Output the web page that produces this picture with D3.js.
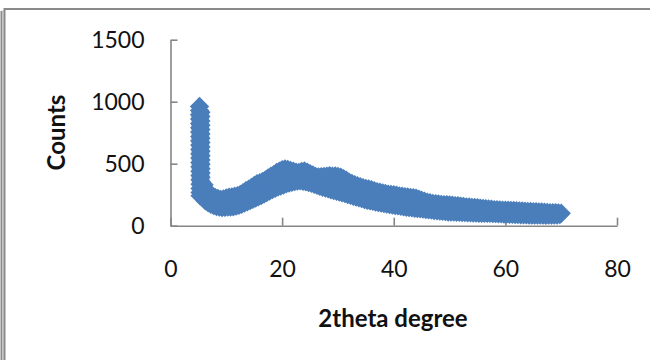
<!DOCTYPE html>
<html>
<head>
<meta charset="utf-8">
<script src="https://cdn.jsdelivr.net/npm/d3@7"></script>
<style>
  html, body { margin: 0; padding: 0; background: #fff; }
  svg { display: block; }
</style>
</head>
<body>
<svg id="chart" width="650" height="360"></svg>
<script>
// ---- data ----
const xTicks = [0, 20, 40, 60, 80];
const yTicks = [0, 500, 1000, 1500];
const xTitle = "2theta degree";
const yTitle = "Counts";

// low-angle spike (dense readings between 5.2 and 5.9 degrees)
const thetaSpike = [
  5.200,
  5.210, 5.215, 5.220, 5.225, 5.230, 5.235, 5.240, 5.245, 5.250, 5.255, 5.260,
  5.265, 5.270, 5.275, 5.280, 5.285, 5.290, 5.295, 5.300, 5.305, 5.310,
  5.440, 5.442, 5.444, 5.446, 5.448, 5.450, 5.452, 5.454, 5.456, 5.458, 5.460,
  5.462, 5.464, 5.466, 5.468, 5.470,
  5.50, 5.60, 5.70, 5.80, 5.90
];
const countsSpike = [
  962,
  930, 895, 860, 825, 790, 755, 720, 685, 650, 615, 580,
  545, 510, 475, 440, 405, 370, 335, 300, 268, 242,
  915, 880, 845, 810, 775, 740, 705, 670, 635, 600, 565,
  530, 495, 460, 425, 390,
  355, 320, 290, 265, 225
];

// readings on whole / half degrees (upper side of the noisy band)
const thetaA = [
  6.0, 6.5, 7.0, 7.5, 8.0, 8.5, 9.0, 9.5, 10.0, 10.5, 11.0, 11.5, 12.0, 12.5, 13.0, 13.5,
  14.0, 14.5, 15.0, 15.5, 16.0, 16.5, 17.0, 17.5, 18.0, 18.5, 19.0, 19.5, 20.0, 20.5,
  21.0, 21.5, 22.0, 22.5, 23.0, 23.5, 24.0, 24.5, 25.0, 25.5, 26.0, 26.5, 27.0, 27.5,
  28.0, 28.5, 29.0, 29.5, 30.0, 30.5, 31.0, 31.5, 32.0, 32.5, 33.0, 33.5, 34.0, 34.5,
  35.0, 35.5, 36.0, 36.5, 37.0, 37.5, 38.0, 38.5, 39.0, 39.5, 40.0, 40.5, 41.0, 41.5,
  42.0, 42.5, 43.0, 43.5, 44.0, 44.5, 45.0, 45.5, 46.0, 46.5, 47.0, 47.5, 48.0, 48.5,
  49.0, 49.5, 50.0, 50.5, 51.0, 51.5, 52.0, 52.5, 53.0, 53.5, 54.0, 54.5, 55.0, 55.5,
  56.0, 56.5, 57.0, 57.5, 58.0, 58.5, 59.0, 59.5, 60.0, 60.5, 61.0, 61.5, 62.0, 62.5,
  63.0, 63.5, 64.0, 64.5, 65.0, 65.5, 66.0, 66.5, 67.0, 67.5, 68.0, 68.5, 69.0, 69.5, 70.0
];
const countsA = [
  330, 285, 255, 240, 228, 220, 212, 216, 224, 230, 232, 238, 242, 252, 266, 282,
  295, 308, 325, 338, 346, 356, 368, 386, 400, 412, 430, 440, 452, 458,
  454, 446, 440, 432, 430, 438, 442, 432, 420, 410, 398, 394, 396, 398,
  400, 404, 400, 402, 398, 392, 380, 366, 350, 341, 330, 323, 315, 306,
  300, 296, 290, 283, 275, 270, 265, 261, 255, 253, 250, 245, 240, 238,
  234, 231, 228, 226, 222, 214, 205, 198, 190, 186, 180, 178, 175, 172,
  170, 170, 168, 165, 162, 161, 158, 155, 152, 151, 148, 147, 145, 142,
  140, 138, 135, 133, 130, 130, 128, 126, 125, 124, 122, 122, 120, 119,
  118, 117, 115, 114, 112, 112, 110, 110, 108, 107, 105, 105, 104, 103, 100
];

// readings on quarter degrees (lower side of the noisy band)
const thetaB = [
  6.25, 6.75, 7.25, 7.75, 8.25, 8.75, 9.25, 9.75, 10.25, 10.75, 11.25, 11.75, 12.25, 12.75,
  13.25, 13.75, 14.25, 14.75, 15.25, 15.75, 16.25, 16.75, 17.25, 17.75, 18.25, 18.75,
  19.25, 19.75, 20.25, 20.75, 21.25, 21.75, 22.25, 22.75, 23.25, 23.75, 24.25, 24.75,
  25.25, 25.75, 26.25, 26.75, 27.25, 27.75, 28.25, 28.75, 29.25, 29.75, 30.25, 30.75,
  31.25, 31.75, 32.25, 32.75, 33.25, 33.75, 34.25, 34.75, 35.25, 35.75, 36.25, 36.75,
  37.25, 37.75, 38.25, 38.75, 39.25, 39.75, 40.25, 40.75, 41.25, 41.75, 42.25, 42.75,
  43.25, 43.75, 44.25, 44.75, 45.25, 45.75, 46.25, 46.75, 47.25, 47.75, 48.25, 48.75,
  49.25, 49.75, 50.25, 50.75, 51.25, 51.75, 52.25, 52.75, 53.25, 53.75, 54.25, 54.75,
  55.25, 55.75, 56.25, 56.75, 57.25, 57.75, 58.25, 58.75, 59.25, 59.75, 60.25, 60.75,
  61.25, 61.75, 62.25, 62.75, 63.25, 63.75, 64.25, 64.75, 65.25, 65.75, 66.25, 66.75,
  67.25, 67.75, 68.25, 68.75, 69.25, 69.75
];
const countsB = [
  200, 185, 172, 162, 155, 150, 147, 148, 150, 151, 153, 158, 165, 173,
  182, 192, 202, 212, 222, 233, 244, 256, 268, 280, 292, 302,
  312, 320, 328, 337, 344, 350, 356, 360, 362, 358, 354, 348,
  342, 334, 326, 318, 310, 304, 298, 290, 284, 278, 272, 266,
  260, 252, 246, 238, 232, 225, 218, 210, 205, 200, 196, 190,
  186, 182, 178, 174, 170, 166, 163, 160, 156, 152, 149, 146,
  144, 141, 139, 136, 134, 131, 129, 126, 123, 121, 119, 116,
  114, 111, 110, 110, 109, 108, 107, 106, 105, 104, 103, 102,
  101, 100, 100, 99, 99, 98, 97, 96, 95, 94, 93, 92,
  91, 90, 89, 88, 87, 87, 86, 85, 85, 85, 85, 85,
  84, 85, 85, 86, 86, 90
];

// ---- drawing ----
const svg = d3.select("#chart");
const axisColor = "#868686";
const seriesColor = "#4a7ebb";
const fontFamily = "Lato, 'Open Sans', sans-serif";

// outer frame lines
const frame = svg.append("g");
frame.append("line").attr("x1", 1.5).attr("x2", 1.5).attr("y1", 11).attr("y2", 360)
  .attr("stroke", "#8a8a8a").attr("stroke-width", 2);
frame.append("line").attr("x1", 3).attr("x2", 3).attr("y1", 10).attr("y2", 360)
  .attr("stroke", "#c8c8c8").attr("stroke-width", 1);
frame.append("line").attr("x1", 4.5).attr("x2", 4.5).attr("y1", 8).attr("y2", 360)
  .attr("stroke", "#8a8a8a").attr("stroke-width", 2);
frame.append("line").attr("x1", 4).attr("x2", 650).attr("y1", 9).attr("y2", 9)
  .attr("stroke", "#8a8a8a").attr("stroke-width", 2);

const x = d3.scaleLinear().domain([0, 80]).range([170.5, 617]);
const y = d3.scaleLinear().domain([0, 1500]).range([225.7, 39.7]);

const fmt = d3.format("d");
const yAxis = d3.axisLeft(y).tickValues(yTicks).tickFormat(fmt)
  .tickSizeInner(-7).tickSizeOuter(0).tickPadding(26);
const gy = svg.append("g").attr("transform", `translate(${x(0)},0)`).call(yAxis);
const xAxis = d3.axisBottom(x).tickValues(xTicks).tickFormat(fmt)
  .tickSizeInner(-8).tickSizeOuter(0).tickPadding(35);
const gx = svg.append("g").attr("transform", `translate(0,${y(0)})`).call(xAxis);

[gx, gy].forEach(g => {
  g.select(".domain").attr("stroke", axisColor).attr("stroke-width", 1.6);
  g.selectAll(".tick line").attr("stroke", axisColor).attr("stroke-width", 1.6);
  g.selectAll(".tick text").attr("fill", "#111").attr("font-size", 23)
    .attr("font-family", fontFamily);
});

// diamond marker (square rotated 45 degrees)
const diamond = {
  draw(ctx, size) {
    const r = Math.sqrt(size) / 2;
    ctx.moveTo(0, -r); ctx.lineTo(r, 0); ctx.lineTo(0, r); ctx.lineTo(-r, 0); ctx.closePath();
  }
};
const sym = d3.symbol().type(diamond).size(19.4 * 19.4);

const pts = [];
thetaSpike.forEach((t, i) => pts.push({ t, c: countsSpike[i] }));
thetaA.forEach((t, i) => pts.push({ t, c: countsA[i] }));
thetaB.forEach((t, i) => pts.push({ t, c: countsB[i] }));

svg.append("g").selectAll("path").data(pts).join("path")
  .attr("transform", d => `translate(${x(d.t)},${y(d.c)})`)
  .attr("d", sym)
  .attr("fill", seriesColor);

// titles
svg.append("text").attr("transform", "translate(65,132.5) rotate(-90)")
  .attr("text-anchor", "middle").attr("font-family", fontFamily)
  .attr("font-weight", "bold").attr("font-size", 24).attr("fill", "#111").text(yTitle);
svg.append("text").attr("x", 393).attr("y", 327)
  .attr("text-anchor", "middle").attr("font-family", fontFamily)
  .attr("font-weight", "bold").attr("font-size", 24).attr("fill", "#111").text(xTitle);
</script>
</body>
</html>
